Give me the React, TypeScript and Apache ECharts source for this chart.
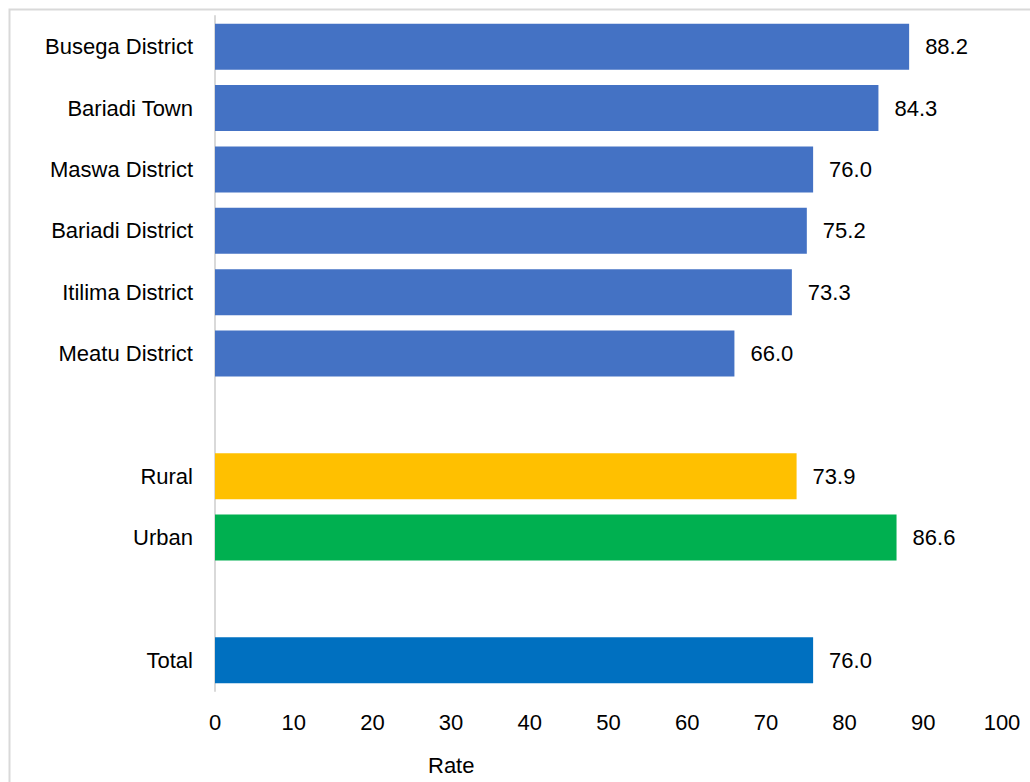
import React, { useEffect, useRef } from "react";
import * as echarts from "echarts";

const categories = [
  "Busega District",
  "Bariadi Town",
  "Maswa District",
  "Bariadi District",
  "Itilima District",
  "Meatu District",
  " ",
  "Rural",
  "Urban",
  "  ",
  "Total",
];
const values: (number | null)[] = [88.2, 84.3, 76.0, 75.2, 73.3, 66.0, null, 73.9, 86.6, null, 76.0];
const barColors = [
  "#4472C4", "#4472C4", "#4472C4", "#4472C4", "#4472C4", "#4472C4",
  "#4472C4", "#FFC000", "#00B050", "#4472C4", "#0070C0",
];
const xTicks = { min: 0, max: 100, interval: 10 };
const axisName = "Rate";

const FONT = "'Liberation Sans', Arial, sans-serif";
const FS = 22;

export default function App() {
  const ref = useRef<HTMLDivElement>(null);
  useEffect(() => {
    if (!ref.current) return;
    const chart = echarts.init(ref.current, null, { renderer: "svg" });
    chart.setOption({
      animation: false,
      backgroundColor: "#ffffff",
      grid: { left: 215, right: 28, top: 16, bottom: 91, containLabel: false },
      xAxis: {
        type: "value",
        min: xTicks.min,
        max: xTicks.max,
        interval: xTicks.interval,
        axisLine: { show: false },
        axisTick: { show: false },
        splitLine: { show: false },
        axisLabel: { color: "#000", fontSize: FS, fontFamily: FONT, margin: 20 },
      },
      yAxis: {
        type: "category",
        inverse: true,
        data: categories,
        axisLine: { show: true, lineStyle: { color: "#d9d9d9", width: 2 } },
        axisTick: { show: false },
        axisLabel: { color: "#000", fontSize: FS, fontFamily: FONT, margin: 22 },
      },
      series: [
        {
          type: "bar",
          barCategoryGap: "25%",
          data: values.map((v, i) => ({ value: v, itemStyle: { color: barColors[i] } })),
          label: {
            show: true,
            position: "right",
            distance: 16,
            color: "#000",
            fontSize: FS,
            fontFamily: FONT,
            formatter: (p: any) => (p.value == null ? "" : Number(p.value).toFixed(1)),
          },
        },
      ],
      graphic: [
        {
          type: "rect",
          left: 7,
          top: 7,
          shape: { width: 1100, height: 900 },
          style: { fill: "none", stroke: "#d9d9d9", lineWidth: 2 },
          silent: true,
        },
        {
          type: "text",
          left: 428,
          top: 754,
          style: { text: axisName, fill: "#000", font: `${FS}px ${FONT}` },
        },
      ],
    });
    return () => chart.dispose();
  }, []);
  return (
    <div
      ref={ref}
      style={{ position: "absolute", left: 0, top: 0, width: 1030, height: 782 }}
    />
  );
}
